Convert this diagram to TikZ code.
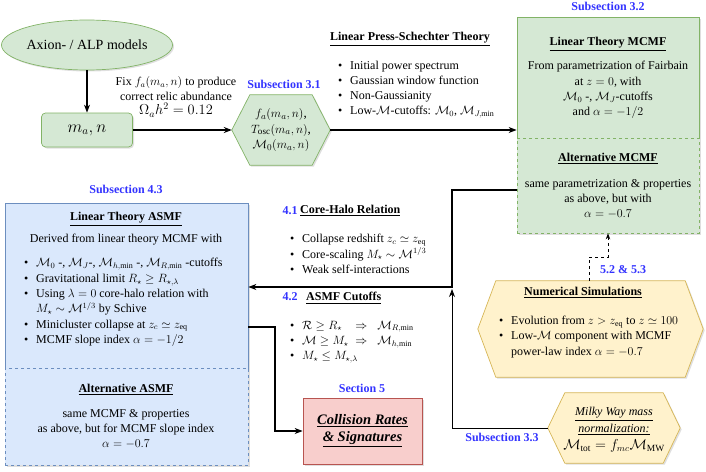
\documentclass[tikz,border=0pt]{standalone}
\usepackage{amsmath, amssymb}
\usepackage{fontspec}
\setmainfont{Liberation Serif}
\usepackage{xcolor}
\usepackage{tikz}
\usetikzlibrary{
    positioning,
    arrows.meta,
    calc,
    shapes.geometric,
    shadows
}
\definecolor{fillGreen}{RGB}{213, 232, 212}
\definecolor{lineGreen}{RGB}{130, 179, 102}
\definecolor{fillBlue}{RGB}{218, 232, 252}
\definecolor{lineBlue}{RGB}{108, 142, 191}
\definecolor{fillRed}{RGB}{248, 206, 204}
\definecolor{lineRed}{RGB}{184, 84, 80}
\definecolor{fillYellow}{RGB}{255, 242, 204}
\definecolor{lineYellow}{RGB}{214, 182, 86}
\definecolor{secBlue}{RGB}{51, 51, 255}

\newcommand{\bul}{\makebox[12pt][l]{\textbullet}}
\newcommand{\hd}[1]{\underline{\textbf{#1}}}

\begin{document}
\begin{tikzpicture}[x=1pt, y=-1pt, >={Stealth[length=8pt, width=6pt]},
    shade/.style={drop shadow={opacity=0.25, shadow xshift=1.5pt, shadow yshift=-1.5pt}},
    box/.style={inner sep=0, line width=0.7pt, shade},
    frame/.style={rectangle, inner sep=0, minimum width=#1},
    txt/.style={font=\fontsize{12}{15.3}\selectfont, align=center, inner sep=0},
    list/.style={font=\fontsize{12}{15.3}\selectfont, align=left, inner sep=0, anchor=west},
    sec/.style={font=\fontsize{12}{14}\selectfont\bfseries, text=secBlue, inner sep=0},
    arr/.style={->, line width=1.5pt},
    thinarr/.style={->, line width=0.9pt},
    dasharr/.style={-{Stealth[length=6pt, width=4.5pt]}, line width=1pt, dashed}
]
    \useasboundingbox (0,0) rectangle (706,471);

    % Modelle und Anfangswerte
    \node[ellipse, box, fill=fillGreen, draw=lineGreen, minimum width=151, minimum height=50,
          font=\fontsize{14}{16}\selectfont] (axion) at (87,45) {Axion- / ALP models};
    \node[rectangle, box, rounded corners=4pt, fill=fillGreen, draw=lineGreen, minimum width=91, minimum height=34,
          font=\fontsize{16}{18}\selectfont] (ma) at (87,130) {$m_a, n$};
    \node[txt, font=\fontsize{12}{14.5}\selectfont] (fix) at (176,97) {Fix $f_a(m_a,n)$ to produce\\correct relic abundance\\{\fontsize{14}{14}\selectfont $\Omega_a h^2 = 0.12$}};

    % Sechseck f_a, T_osc, M_0
    \node[frame=98, minimum height=70] (fa) at (281,130) {};
    \filldraw[fill=fillGreen, draw=lineGreen, line width=0.7pt, shade]
        (fa.west) -- ($(fa.north west)+(18,0)$) -- ($(fa.north east)+(-18,0)$) -- (fa.east)
        -- ($(fa.south east)+(-18,0)$) -- ($(fa.south west)+(18,0)$) -- cycle;
    \node[txt, font=\fontsize{13}{15.5}\selectfont] (faText) at (fa) {$f_a(m_a,n)$,\\$T_{\rm osc}(m_a,n)$,\\$\mathcal{M}_0(m_a,n)$};
    \node[sec] (sub31) at (284,84) {Subsection 3.1};

    % Press-Schechter
    \node[txt] (lpsTitle) at (410,39) {\hd{Linear Press-Schechter Theory}};
    \node[list] (lpsList) at (338,89.5) {\bul Initial power spectrum\\\bul Gaussian window function\\\bul Non-Gaussianity\\\bul Low-$\mathcal{M}$-cutoffs: $\mathcal{M}_0$, $\mathcal{M}_{J,\min}$};

    % MCMF
    \node[rectangle, box, fill=fillGreen, draw=lineGreen, minimum width=182, minimum height=121] (mcmf) at (608,77.5) {};
    \node[rectangle, box, fill=fillGreen, draw=lineGreen, dashed, minimum width=182, minimum height=95] (altMcmf) at (608,185.5) {};
    \node[sec] (sub32) at (608,6) {Subsection 3.2};
    \node[txt] (mcmfTitle) at (608,44) {\hd{Linear Theory MCMF}};
    \node[txt] (mcmfText) at (608,90) {From parametrization of Fairbain\\at $z=0$, with\\$\mathcal{M}_0$ -, $\mathcal{M}_J$-cutoffs\\and $\alpha=-1/2$};
    \node[txt] (altMcmfTitle) at (608,159) {\hd{Alternative MCMF}};
    \node[txt] (altMcmfText) at (608,199) {same parametrization \& properties\\as above, but with\\$\alpha=-0.7$};

    % ASMF
    \node[rectangle, box, fill=fillBlue, draw=lineBlue, minimum width=243, minimum height=165] (asmf) at (126.5,285.5) {};
    \node[rectangle, box, fill=fillBlue, draw=lineBlue, dashed, minimum width=243, minimum height=97] (altAsmf) at (126.5,416.5) {};
    \node[sec] (sub43) at (126,189) {Subsection 4.3};
    \node[txt] (asmfTitle) at (126,219) {\hd{Linear Theory ASMF}};
    \node[txt] (asmfIntro) at (126,240) {Derived from linear theory MCMF with};
    \node[list] (asmfList) at (24,302.5) {\bul $\mathcal{M}_0$ -, $\mathcal{M}_J$-, $\mathcal{M}_{h,\min}$ -, $\mathcal{M}_{R,\min}$ -cutoffs\\
        \bul Gravitational limit $R_\star \geq R_{\star,\lambda}$\\
        \bul Using $\lambda=0$ core-halo relation with\\
        \hspace*{12pt}$M_\star \sim \mathcal{M}^{1/3}$ by Schive\\
        \bul Minicluster collapse at $z_c \simeq z_{\rm eq}$\\
        \bul MCMF slope index $\alpha=-1/2$};
    \node[txt] (altAsmfTitle) at (126,390) {\hd{Alternative ASMF}};
    \node[txt] (altAsmfText) at (126,429) {same MCMF \& properties\\as above, but for MCMF slope index\\$\alpha=-0.7$};

    % Kern-Halo-Relation und Cutoffs
    \node[sec] (sec41) at (290,211) {4.1};
    \node[txt, anchor=west] (coreTitle) at (300,211) {\hd{Core-Halo Relation}};
    \node[list] (coreList) at (290,254) {\bul Collapse redshift $z_c \simeq z_{\rm eq}$\\\bul Core-scaling $M_\star \sim \mathcal{M}^{1/3}$\\\bul Weak self-interactions};
    \node[sec] (sec42) at (290,297) {4.2};
    \node[txt, anchor=west] (cutTitle) at (306,298) {\hd{ASMF Cutoffs}};
    \node[list] (cutList) at (290,342) {\bul $\mathcal{R} \geq R_\star \;\;\;\Rightarrow\;\; \mathcal{M}_{R,\min}$\\\bul $\mathcal{M} \geq M_\star \;\Rightarrow\;\; \mathcal{M}_{h,\min}$\\\bul $M_\star \leq M_{\star,\lambda}$};

    % Kollisionen
    \node[rectangle, box, fill=fillRed, draw=lineRed, minimum width=119, minimum height=66] (coll) at (362.5,431) {};
    \node[txt, font=\fontsize{14.5}{17}\selectfont] (collText) at (coll) {\underline{\textbf{\textit{Collision Rates}}}\\\underline{\textbf{\textit{\& Signatures}}}};
    \node[sec] (sec5) at (362,388) {Section 5};

    % Simulationen
    \node[frame=225, minimum height=96] (num) at (590.5,329) {};
    \filldraw[fill=fillYellow, draw=lineYellow, line width=0.7pt, shade]
        (num.west) -- ($(num.north west)+(18,0)$) -- ($(num.north east)+(-18,0)$) -- (num.east)
        -- ($(num.south east)+(-18,0)$) -- ($(num.south west)+(18,0)$) -- cycle;
    \node[txt] (numTitle) at (583,293) {\hd{Numerical Simulations}};
    \node[list] (numList) at (499,337) {\bul Evolution from $z > z_{\rm eq}$ to $z \simeq 100$\\\bul Low-$\mathcal{M}$ component with MCMF\\\hspace*{12pt}power-law index $\alpha=-0.7$};
    \node[sec] (sec5253) at (623,270) {5.2 \& 5.3};

    % Milchstrasse
    \node[frame=132, minimum height=70] (mw) at (614,428) {};
    \filldraw[fill=fillYellow, draw=lineYellow, line width=0.7pt, shade]
        (mw.west) -- ($(mw.north west)+(17,0)$) -- ($(mw.north east)+(-17,0)$) -- (mw.east)
        -- ($(mw.south east)+(-17,0)$) -- ($(mw.south west)+(17,0)$) -- cycle;
    \node[txt, font=\fontsize{12}{17}\selectfont] (mwText) at (614,430) {\underline{\textit{Milky Way mass}}\\\underline{\textit{normalization:}}\\{\fontsize{13.5}{15}\selectfont $\mathcal{M}_{\rm tot} = f_{mc}\mathcal{M}_{\rm MW}$}};
    \node[sec] (sub33) at (502,437) {Subsection 3.3};

    % Verbindungen
    \coordinate (joinTop) at (452,190);
    \coordinate (joinMid) at (452,287);
    \coordinate (bendA) at (275,327);
    \coordinate (numUp) at (608,257);
    \draw[arr] (axion) -- (ma);
    \draw[arr] (ma) -- (fa);
    \draw[arr] (fa.east) -- (fa.east -| mcmf.west);
    \draw[arr] (altMcmf.west |- joinTop) -- (joinTop) -- (joinMid) -- (joinMid -| asmf.east);
    \draw[thinarr] (mw.west) -- (mw.west -| joinMid) -- ($(joinMid)+(0,2)$);
    \draw[arr] (asmf.east |- bendA) -- (bendA) |- (coll.west);
    \draw[dasharr] (num.north -| 589,0) |- (numUp) -- (numUp |- altMcmf.south);
\end{tikzpicture}
\end{document}
